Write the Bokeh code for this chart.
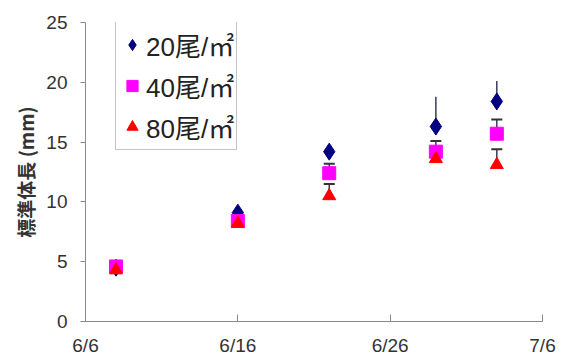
from datetime import date
from bokeh.plotting import figure
from bokeh.models import Range1d, FixedTicker, Legend, LegendItem, ColumnDataSource
from bokeh.embed import file_html
from bokeh.resources import INLINE

# ---- data ----
dates = ["6/8", "6/16", "6/22", "6/29", "7/3"]
series_names = ["20尾/㎡", "40尾/㎡", "80尾/㎡"]
len_20 = [4.5, 9.1, 14.2, 16.3, 18.4]
len_40 = [4.6, 8.4, 12.4, 14.2, 15.7]
len_80 = [4.3, 8.2, 10.5, 13.6, 13.1]
err_20 = [0.2, 0.3, 0.5, 2.5, 1.7]
err_40 = [0.2, 0.3, 0.8, 0.9, 1.2]
err_80 = [0.2, 0.3, 1.0, 0.4, 1.3]
x_tick_labels = ["6/6", "6/16", "6/26", "7/6"]
y_ticks = [0, 5, 10, 15, 20, 25]

YEAR = 2005
origin = date(YEAR, 6, 6)


def day_num(s):
    m, d = s.split("/")
    return (date(YEAR, int(m), int(d)) - origin).days


xs = [day_num(s) for s in dates]
x_ticks = [day_num(s) for s in x_tick_labels]

p = figure(width=562, height=360, output_backend="svg", toolbar_location=None,
           x_range=Range1d(x_ticks[0], x_ticks[-1]), y_range=Range1d(0, 25),
           min_border_left=85, min_border_right=20, min_border_top=22, min_border_bottom=39)
p.outline_line_color = None
p.grid.visible = False
p.background_fill_color = "white"

# axes
p.xaxis.ticker = FixedTicker(ticks=x_ticks)
p.xaxis.major_label_overrides = {t: l for t, l in zip(x_ticks, x_tick_labels)}
p.xaxis.major_tick_in = 7
p.xaxis.major_tick_out = 0
p.xaxis.minor_tick_line_color = None
p.yaxis.ticker = FixedTicker(ticks=y_ticks)
p.yaxis.major_tick_in = 0
p.yaxis.major_tick_out = 5
p.yaxis.minor_tick_line_color = None
for ax in (p.xaxis, p.yaxis):
    ax.axis_line_color = "#8a8a8a"
    ax.major_tick_line_color = "#8a8a8a"
    ax.major_label_text_font = "Liberation Sans"
    ax.major_label_text_font_size = "19px"
    ax.major_label_text_color = "#333333"
p.xaxis.major_label_standoff = 13
p.yaxis.major_label_standoff = 13
p.yaxis.axis_label = "標準体長 (mm)"
p.yaxis.axis_label_text_font = "Noto Sans CJK JP"
p.yaxis.axis_label_text_font_size = "19px"
p.yaxis.axis_label_text_font_style = "bold"
p.yaxis.axis_label_text_color = "#333333"
p.yaxis.axis_label_standoff = 4

# error bars
colors = ["#000080", "#ff00ff", "#ff0000"]
vals = [len_20, len_40, len_80]
errs = [err_20, err_40, err_80]
for i, (v, e) in enumerate(zip(vals, errs)):
    top = [a + b for a, b in zip(v, e)]
    src = ColumnDataSource(dict(x=xs, y=v, top=top))
    p.segment(x0="x", y0="y", x1="x", y1="top", source=src,
              line_color="#3a3a5a", line_width=1.5)
    if i > 0:
        p.scatter(x="x", y="top", source=src, marker="dash", size=11,
                  line_color="#333333", line_width=2)

# markers
r20 = p.scatter(xs, len_20, marker="diamond", size=17, fill_color=colors[0], line_color=colors[0])
r40 = p.scatter(xs, len_40, marker="square", size=13, fill_color=colors[1], line_color=colors[1])
r80 = p.scatter(xs, len_80, marker="triangle", size=13, fill_color=colors[2], line_color=colors[2])

legend = Legend(items=[LegendItem(label=series_names[0], renderers=[r20]),
                       LegendItem(label=series_names[1], renderers=[r40]),
                       LegendItem(label=series_names[2], renderers=[r80])],
                location=(30, 171))
legend.label_text_font = "Liberation Sans, Noto Sans CJK JP"
legend.label_text_font_size = "26px"
legend.label_text_color = "#222222"
legend.label_height = 41
legend.glyph_width = 28
legend.glyph_height = 41
legend.spacing = 0
legend.padding = 2
legend.margin = 0
legend.label_standoff = 0
legend.border_line_color = "#8a8a8a"
legend.border_line_width = 1.5
legend.background_fill_color = "white"
legend.background_fill_alpha = 1
p.add_layout(legend, "center")

open("out.html", "w").write(file_html(p, INLINE))
